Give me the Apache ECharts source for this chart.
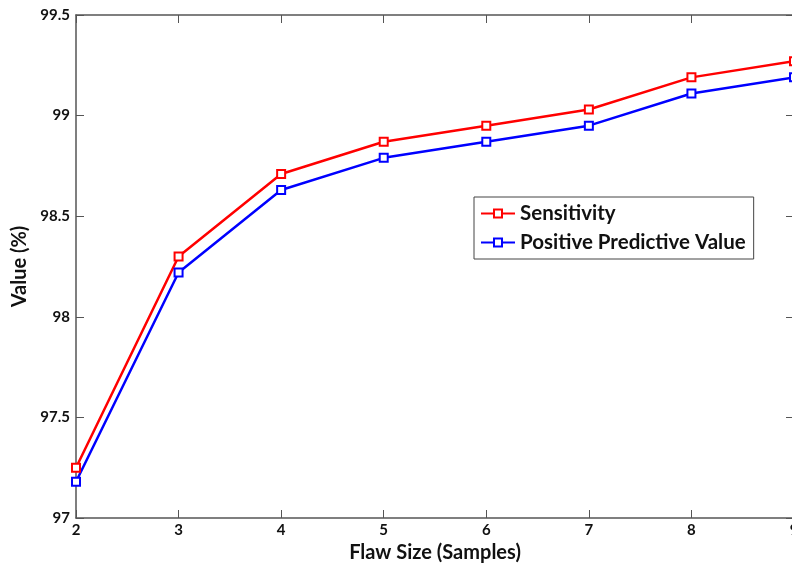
<!DOCTYPE html>
<html>
<head>
<meta charset="utf-8">
<script src="https://cdn.jsdelivr.net/npm/echarts@6/dist/echarts.min.js"></script>
<style>
  html, body { margin: 0; padding: 0; background: #fff; }
  #chart { width: 792px; height: 565px; }
</style>
</head>
<body>
<div id="chart"></div>
<script>
// flaw sizes (samples)
var flawSizes = [2, 3, 4, 5, 6, 7, 8, 9];
var sensitivity = [97.25, 98.30, 98.71, 98.87, 98.95, 99.03, 99.19, 99.27];
var ppv = [97.18, 98.22, 98.63, 98.79, 98.87, 98.95, 99.11, 99.19];

function pairs(xs, ys) {
    return xs.map(function (x, i) { return [x, ys[i]]; });
}

var font = 'Lato, "Open Sans", sans-serif';
var axisCol = '#555';

var chart = echarts.init(document.getElementById('chart'));
var option = {
    animation: false,
    backgroundColor: '#fff',
    grid: { left: 76, top: 15, right: -2, bottom: 47, outerBoundsMode: 'none', containLabel: false },
    legend: {
        orient: 'vertical',
        left: 474,
        top: 197,
        padding: [6, 8, 6, 6],
        itemGap: 8,
        itemWidth: 34,
        itemHeight: 10,
        borderColor: '#444',
        borderWidth: 1,
        backgroundColor: '#fff',
        textStyle: { fontFamily: font, fontSize: 20.5, fontWeight: 'bold', color: '#111' },
        data: ['Sensitivity', 'Positive Predictive Value']
    },
    xAxis: [{
        type: 'value', min: 2, max: 9, interval: 1,
        name: 'Flaw Size (Samples)', nameLocation: 'middle', nameGap: 22,
        nameTextStyle: { fontFamily: font, fontSize: 20, fontWeight: 'bold', color: '#111' },
        axisLine: { lineStyle: { color: axisCol, width: 1.5 } },
        axisTick: { inside: true, length: 8, lineStyle: { color: axisCol } },
        axisLabel: { fontFamily: font, fontSize: 15, fontWeight: 'bold', color: '#111', margin: 5 },
        splitLine: { show: false }
    }, {
        type: 'value', min: 2, max: 9, interval: 1, position: 'top',
        axisLine: { lineStyle: { color: axisCol, width: 1.5 } },
        axisTick: { inside: true, length: 8, lineStyle: { color: axisCol } },
        axisLabel: { show: false },
        splitLine: { show: false }
    }],
    yAxis: [{
        type: 'value', min: 97, max: 99.5, interval: 0.5,
        name: 'Value (%)', nameLocation: 'middle', nameGap: 45,
        nameTextStyle: { fontFamily: font, fontSize: 20, fontWeight: 'bold', color: '#111' },
        axisLine: { show: true, lineStyle: { color: axisCol, width: 1.5 } },
        axisTick: { show: true, inside: true, length: 8, lineStyle: { color: axisCol } },
        axisLabel: { fontFamily: font, fontSize: 15, fontWeight: 'bold', color: '#111', margin: 6 },
        splitLine: { show: false }
    }, {
        type: 'value', min: 97, max: 99.5, interval: 0.5, position: 'right',
        axisLine: { show: true, lineStyle: { color: axisCol, width: 1.5 } },
        axisTick: { show: true, inside: true, length: 8, lineStyle: { color: axisCol } },
        axisLabel: { show: false },
        splitLine: { show: false }
    }],
    series: [{
        name: 'Sensitivity',
        type: 'line',
        data: pairs(flawSizes, sensitivity),
        symbol: 'rect',
        symbolSize: 8,
        lineStyle: { width: 2.5, color: '#ff0000' },
        itemStyle: { color: '#fff', borderColor: '#ff0000', borderWidth: 2 }
    }, {
        name: 'Positive Predictive Value',
        type: 'line',
        data: pairs(flawSizes, ppv),
        symbol: 'rect',
        symbolSize: 8,
        lineStyle: { width: 2.5, color: '#0000ff' },
        itemStyle: { color: '#fff', borderColor: '#0000ff', borderWidth: 2 }
    }]
};
chart.setOption(option);
</script>
</body>
</html>
